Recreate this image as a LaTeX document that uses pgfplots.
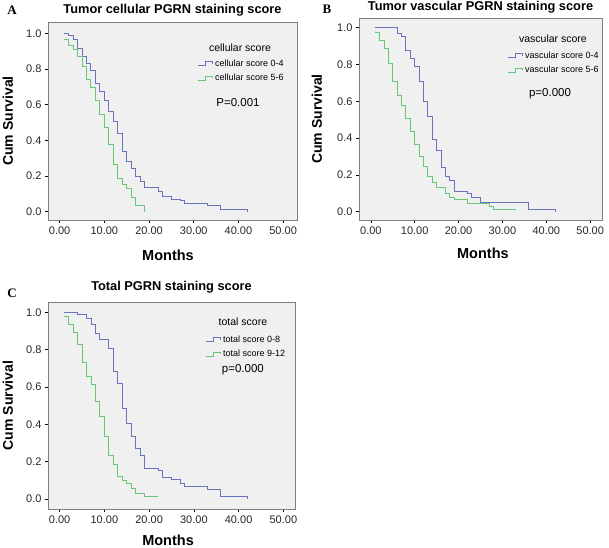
\documentclass[border=0pt]{standalone}
\usepackage{pgfplots}
\pgfplotsset{compat=1.18}
\usepackage{fontspec}
\setmainfont{Liberation Sans}
\newfontfamily\letterfont{Liberation Serif}

\definecolor{kmblue}{RGB}{106,116,190}
\definecolor{kmgreen}{RGB}{104,198,116}
\definecolor{panelbg}{RGB}{240,240,240}
\definecolor{framegray}{RGB}{128,128,128}

% common look of the three SPSS survival panels
\pgfplotsset{
  kmaxis/.style={
    scale only axis,
    axis background/.style={fill=panelbg},
    axis line style={framegray, line width=0.7pt},
    xtick={0,10,20,30,40,50},
    ytick={0,0.2,0.4,0.6,0.8,1},
    xtick pos=bottom, ytick pos=left,
    tick align=outside,
    major tick length=3pt,
    tick style={black, line width=0.6pt},
    xticklabel style={/pgf/number format/.cd, fixed, fixed zerofill, precision=2},
    yticklabel style={/pgf/number format/.cd, fixed, fixed zerofill, precision=1},
    /pgf/number format/assume math mode=true,
    tick label style={font=\fontsize{11}{12}\selectfont, text=black!85},
    clip=false,
    legend image code/.code={\draw[#1] (0pt,-2pt) -- (8pt,-2pt) -- (8pt,2pt) -- (15pt,2pt) -- (15pt,0pt);},
    legend style={draw=none, fill=none, inner sep=0pt, anchor=north west,
      font=\fontsize{9}{10}\selectfont, row sep=2.5pt},
    legend cell align=left,
  },
  km/.style={const plot, line width=0.9pt, mark=none},
}

\begin{document}
\begin{tikzpicture}
\path[use as bounding box] (0,0) rectangle (609pt,547pt);

% ---------- A ----------
\begin{axis}[kmaxis, at={(48pt,327pt)}, anchor=south west,
  width=249pt, height=198pt,
  xmin=-2.6, xmax=53.1, ymin=-0.047, ymax=1.063,
  legend style={at={(rel axis cs:0.598,0.82)}}]
\addplot[km, kmblue] coordinates {
 (1,1.0)(2,0.99)(3,0.966)(4,0.916)(5,0.87)(6,0.832)(7,0.794)(8,0.72)(9,0.673)
 (10,0.626)(11,0.56)(12,0.505)(13,0.44)(14,0.34)(15,0.28)(16,0.243)(17,0.196)
 (18,0.168)(19,0.133)(22,0.112)(23,0.084)(25,0.071)(27,0.06)(28,0.047)(33,0.037)
 (36,0.013)(42,0)};
\addlegendentry{cellular score 0-4}
\addplot[km, kmgreen] coordinates {
 (1,0.966)(2,0.933)(3,0.908)(4,0.87)(5,0.813)(6,0.74)(7,0.697)(8,0.626)(9,0.547)
 (10,0.472)(11,0.378)(12,0.262)(13,0.188)(14,0.152)(15,0.131)(16,0.08)(17,0.037)(19,0)};
\addlegendentry{cellular score 5-6}
\node[font=\bfseries\fontsize{12.8}{14}\selectfont] at (rel axis cs:0.5,1.06) {Tumor cellular PGRN staining score};
\node[font=\fontsize{10.5}{12}\selectfont] at (rel axis cs:0.771,0.869) {cellular score};
\node[font=\fontsize{11.5}{13}\selectfont] at (rel axis cs:0.763,0.591) {P=0.001};
\node[rotate=90, font=\bfseries\fontsize{14}{16}\selectfont] at (rel axis cs:-0.161,0.5) {Cum Survival};
\node[font=\bfseries\fontsize{14.5}{16}\selectfont] at (rel axis cs:0.482,-0.177) {Months};
\end{axis}

% ---------- B ----------
\begin{axis}[kmaxis, at={(359pt,327pt)}, anchor=south west,
  width=243pt, height=202pt,
  xmin=-2.7, xmax=52.7, ymin=-0.045, ymax=1.053,
  legend style={at={(rel axis cs:0.609,0.845)}}]
\addplot[km, kmblue] coordinates {
 (1,1.0)(6,0.97)(7,0.955)(8,0.879)(9,0.834)(10,0.788)(11,0.707)(12,0.598)(13,0.516)
 (14,0.395)(15,0.335)(16,0.239)(17,0.19)(18,0.172)(19,0.109)(22,0.1)(23,0.075)
 (25,0.05)(36,0.015)(42,0)};
\addlegendentry{vascular score 0-4}
\addplot[km, kmgreen] coordinates {
 (1,0.973)(2,0.93)(3,0.888)(4,0.806)(5,0.707)(6,0.634)(7,0.58)(8,0.507)(9,0.435)
 (10,0.368)(11,0.299)(12,0.245)(13,0.19)(14,0.158)(15,0.13)(17,0.097)(18,0.078)
 (19,0.064)(22,0.047)(27,0.03)(28,0.013)(33,0.013)};
\addlegendentry{vascular score 5-6}
\node[font=\bfseries\fontsize{12.8}{14}\selectfont] at (rel axis cs:0.5,1.055) {Tumor vascular PGRN staining score};
\node[font=\fontsize{10.5}{12}\selectfont] at (rel axis cs:0.798,0.896) {vascular score};
\node[font=\fontsize{11.5}{13}\selectfont] at (rel axis cs:0.786,0.624) {p=0.000};
\node[rotate=90, font=\bfseries\fontsize{14}{16}\selectfont] at (rel axis cs:-0.173,0.5) {Cum Survival};
\node[font=\bfseries\fontsize{14.5}{16}\selectfont] at (rel axis cs:0.51,-0.163) {Months};
\end{axis}

% ---------- C ----------
\begin{axis}[kmaxis, at={(48pt,38pt)}, anchor=south west,
  width=247pt, height=207pt,
  xmin=-2.6, xmax=52.6, ymin=-0.053, ymax=1.055,
  legend style={at={(rel axis cs:0.636,0.848)}}]
\addplot[km, kmblue] coordinates {
 (1,1.0)(4,0.989)(6,0.968)(7,0.936)(8,0.888)(9,0.852)(11,0.807)(12,0.682)(13,0.62)
 (14,0.487)(15,0.406)(16,0.335)(17,0.269)(18,0.233)(19,0.166)(22,0.153)(23,0.118)
 (25,0.103)(27,0.086)(28,0.068)(33,0.05)(36,0.014)(42,0)};
\addlegendentry{total score 0-8}
\addplot[km, kmgreen] coordinates {
 (1,0.977)(2,0.935)(3,0.893)(4,0.829)(5,0.733)(6,0.655)(7,0.613)(8,0.522)(9,0.442)
 (10,0.335)(11,0.235)(12,0.183)(13,0.121)(14,0.098)(15,0.083)(16,0.056)(17,0.028)
 (19,0.014)(22,0.014)};
\addlegendentry{total score 9-12}
\node[font=\bfseries\fontsize{12.8}{14}\selectfont] at (rel axis cs:0.5,1.07) {Total PGRN staining score};
\node[font=\fontsize{10.5}{12}\selectfont] at (rel axis cs:0.789,0.903) {total score};
\node[font=\fontsize{11.5}{13}\selectfont] at (rel axis cs:0.789,0.671) {p=0.000};
\node[rotate=90, font=\bfseries\fontsize{14}{16}\selectfont] at (rel axis cs:-0.162,0.5) {Cum Survival};
\node[font=\bfseries\fontsize{14.5}{16}\selectfont] at (rel axis cs:0.486,-0.15) {Months};
\end{axis}

% panel letters
\node[font=\letterfont\bfseries\fontsize{13}{14}\selectfont] at (12pt,537pt) {A};
\node[font=\letterfont\bfseries\fontsize{13}{14}\selectfont] at (327pt,538pt) {B};
\node[font=\letterfont\bfseries\fontsize{13}{14}\selectfont] at (12pt,254pt) {C};
\end{tikzpicture}
\end{document}
